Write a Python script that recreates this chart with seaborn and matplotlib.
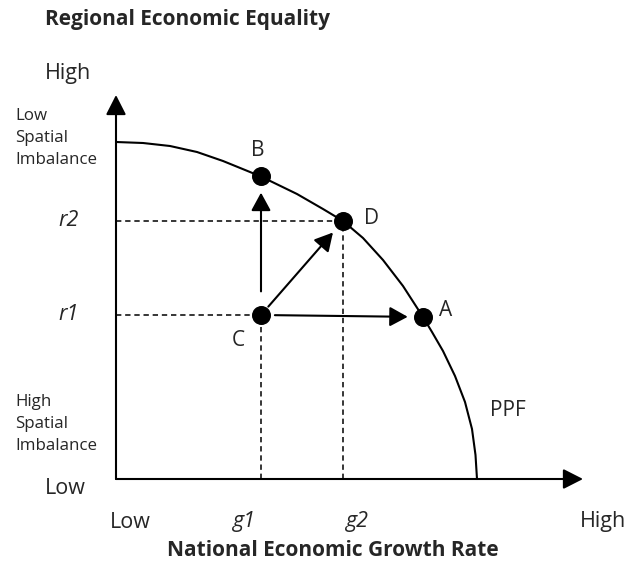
import matplotlib
matplotlib.use("Agg")
import matplotlib.pyplot as plt
import seaborn as sns
import pandas as pd

# PPF curve (x = growth, y = equality, origin at the axes corner)
ppf_x = [0, 27, 54, 81, 107, 134, 146, 181, 207, 227, 247, 267, 287, 307,
         316, 327, 339, 349, 356, 359.5, 361]
ppf_y = [337, 336, 333, 327, 318, 307, 302, 285, 270, 258, 241, 219, 193, 162,
         147, 128, 103, 77, 50, 24, 0]

point_names = ["A", "B", "C", "D"]
point_x = [307, 145, 145, 227]
point_y = [162, 303, 164, 258]

g_levels = [145, 227]    # g1, g2
r_levels = [164, 258]    # r1, r2
x_axis_end = 467
y_axis_end = 384

sns.set_theme(style="white")
plt.rcParams["font.family"] = ["Open Sans", "DejaVu Sans"]

fig = plt.figure(figsize=(6.27, 5.63), dpi=100)
ax = fig.add_axes([0, 0, 1, 1])
ax.set_xlim(-116, 511)
ax.set_ylim(-84, 479)
ax.axis("off")

ink = "black"

# axes with arrowheads
for tip in [(0, y_axis_end), (x_axis_end, 0)]:
    ax.annotate("", xy=tip, xytext=(0, 0),
                arrowprops=dict(arrowstyle="-|>,head_length=0.55,head_width=0.28",
                                color=ink, lw=1.5, mutation_scale=22,
                                shrinkA=0, shrinkB=0))

# guide lines
for g, r in zip(g_levels, r_levels):
    ax.plot([0, g], [r, r], color=ink, lw=1.1, ls=(0, (3.5, 2.5)))
    ax.plot([g, g], [0, r], color=ink, lw=1.1, ls=(0, (3.5, 2.5)))

# PPF
curve = pd.DataFrame({"x": ppf_x, "y": ppf_y})
sns.lineplot(data=curve, x="x", y="y", sort=False, color=ink, lw=1.5, ax=ax)

# moves from C: (target, shrink at C, shrink at target) in points
c = point_names.index("C")
for name, sa, sb in [("B", 17, 12), ("D", 8, 11), ("A", 10, 11)]:
    i = point_names.index(name)
    ax.annotate("", xy=(point_x[i], point_y[i]), xytext=(point_x[c], point_y[c]),
                arrowprops=dict(arrowstyle="-|>,head_length=0.55,head_width=0.3",
                                color=ink, lw=1.5, mutation_scale=20,
                                shrinkA=sa, shrinkB=sb))

pts = pd.DataFrame({"x": point_x, "y": point_y, "name": point_names})
sns.scatterplot(data=pts, x="x", y="y", s=160, color=ink, edgecolor=ink, zorder=5, ax=ax)
ax.set_xlabel("")
ax.set_ylabel("")

label_off = {"A": (23, 7), "B": (-3, 26), "C": (-23, -26), "D": (28, 2)}
for n, x, y in zip(point_names, point_x, point_y):
    dx, dy = label_off[n]
    ax.text(x + dx, y + dy, n, fontsize=15, ha="center", va="center")
ax.text(374, 68, "PPF", fontsize=15, ha="left", va="center")

# titles and axis labels
ax.text(-71, 460, "Regional Economic Equality", fontsize=15, fontweight="bold",
        ha="left", va="center")
ax.text(217, -72, "National Economic Growth Rate", fontsize=15, fontweight="bold",
        ha="center", va="center")
ax.text(-71, 405, "High", fontsize=15.5, ha="left", va="center")
ax.text(-71, -9, "Low", fontsize=15.5, ha="left", va="center")
ax.text(-101, 341, "Low\nSpatial\nImbalance", fontsize=12.2, ha="left", va="center",
        linespacing=1.5)
ax.text(-101, 55, "High\nSpatial\nImbalance", fontsize=12.2, ha="left", va="center",
        linespacing=1.5)
ax.text(-58, r_levels[1], "r2", fontsize=15.5, style="italic", ha="left", va="center")
ax.text(-58, r_levels[0] + 1, "r1", fontsize=15.5, style="italic", ha="left", va="center")

ax.text(-6, -43, "Low", fontsize=15.5, ha="left", va="center")
ax.text(g_levels[0] - 17, -43, "g1", fontsize=15.5, style="italic", ha="center", va="center")
ax.text(g_levels[1] + 14, -43, "g2", fontsize=15.5, style="italic", ha="center", va="center")
ax.text(464, -43, "High", fontsize=15.5, ha="left", va="center")

fig.savefig("out.png", dpi=100, facecolor="white")
